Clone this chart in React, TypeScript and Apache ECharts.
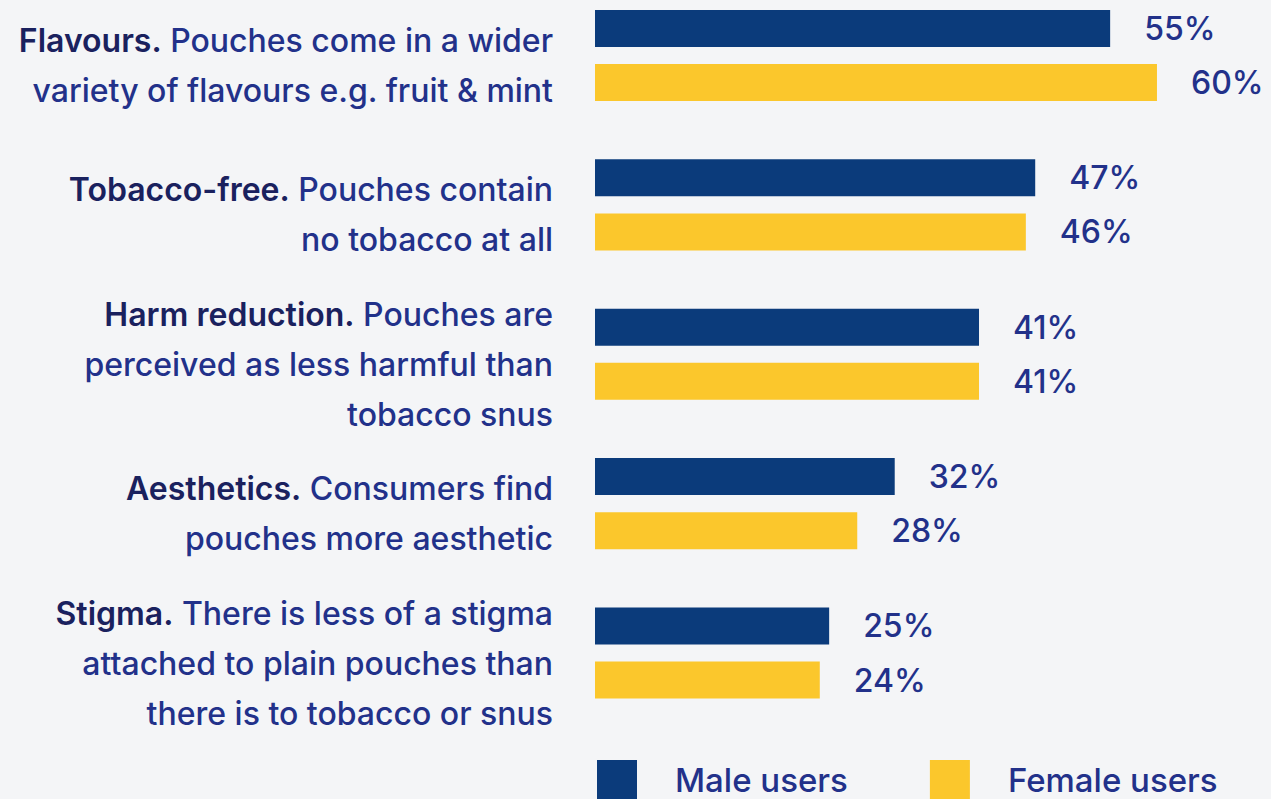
import React, { useEffect, useRef } from "react";
import * as echarts from "echarts";

const categoryBold = ["Flavours.", "Tobacco-free.", "Harm reduction.", "Aesthetics.", "Stigma."];
const categoryRest = [
  " Pouches come in a wider\nvariety of flavours e.g. fruit & mint",
  " Pouches contain\nno tobacco at all",
  " Pouches are\nperceived as less harmful than\ntobacco snus",
  " Consumers find\npouches more aesthetic",
  " There is less of a stigma\nattached to plain pouches than\nthere is to tobacco or snus",
];
const maleValues = [55, 47, 41, 32, 25];
const femaleValues = [60, 46, 41, 28, 24];
const seriesNames = ["Male users", "Female users"];

const NAVY = "#0b3b7b";
const YELLOW = "#fbc72c";
const TEXT = "#22318a";
const TEXT_DARK = "#1a215e";
const FONT = "Inter";

export default function App() {
  const ref = useRef<HTMLDivElement>(null);
  useEffect(() => {
    document.body.style.margin = "0";
    const chart = echarts.init(ref.current!, null, { renderer: "svg" });
    const cats = categoryBold.map((b, i) => b + "||" + categoryRest[i]);
    const valueLabel = {
      show: true,
      position: "right",
      distance: 34,
      formatter: "{c}%",
      color: TEXT,
      fontSize: 32,
      fontWeight: 500,
      fontFamily: FONT,
    };
    chart.setOption({
      animation: false,
      backgroundColor: "#f4f5f7",
      textStyle: { fontFamily: FONT },
      grid: {
        left: 595,
        right: 11,
        top: 55.5,
        height: 597.5,
        containLabel: false,
        outerBoundsMode: "none",
      },
      xAxis: {
        type: "value",
        min: 0,
        max: 71,
        show: false,
      },
      yAxis: {
        type: "category",
        inverse: true,
        boundaryGap: false,
        data: cats,
        axisLine: { show: false },
        axisTick: { show: false },
        splitLine: { show: false },
        axisLabel: {
          margin: 42,
          align: "right",
          padding: [20, 0, 0, 0],
          color: TEXT,
          fontFamily: FONT,
          fontSize: 32,
          lineHeight: 50,
          formatter: (v: string) => {
            const [b, rest] = v.split("||");
            const lines = rest.split("\n");
            return lines
              .map((l, i) => (i === 0 ? `{b|${b}}{r|${l}}` : `{r|${l}}`))
              .join("\n");
          },
          rich: {
            b: { fontWeight: 600, fontSize: 32, color: TEXT_DARK, fontFamily: FONT, lineHeight: 50 },
            r: { fontWeight: 500, fontSize: 32, color: TEXT, fontFamily: FONT, lineHeight: 50 },
          },
        },
      },
      legend: {
        left: 597,
        top: 760,
        padding: 0,
        itemWidth: 40,
        itemHeight: 40,
        itemGap: 82,
        icon: "rect",
        textStyle: { color: TEXT, fontSize: 33, fontWeight: 500, fontFamily: FONT, padding: [0, 0, 0, 33] },
        data: seriesNames,
      },
      series: [
        {
          name: seriesNames[0],
          type: "bar",
          data: maleValues,
          barWidth: 37,
          barGap: "46%",
          itemStyle: { color: NAVY },
          label: valueLabel,
        },
        {
          name: seriesNames[1],
          type: "bar",
          data: femaleValues,
          barWidth: 37,
          barGap: "46%",
          itemStyle: { color: YELLOW },
          label: valueLabel,
        },
      ],
    });
    return () => chart.dispose();
  }, []);
  return (
    <div
      ref={ref}
      style={{ position: "absolute", left: 0, top: 0, width: 1271, height: 799, background: "#f4f5f7" }}
    />
  );
}
